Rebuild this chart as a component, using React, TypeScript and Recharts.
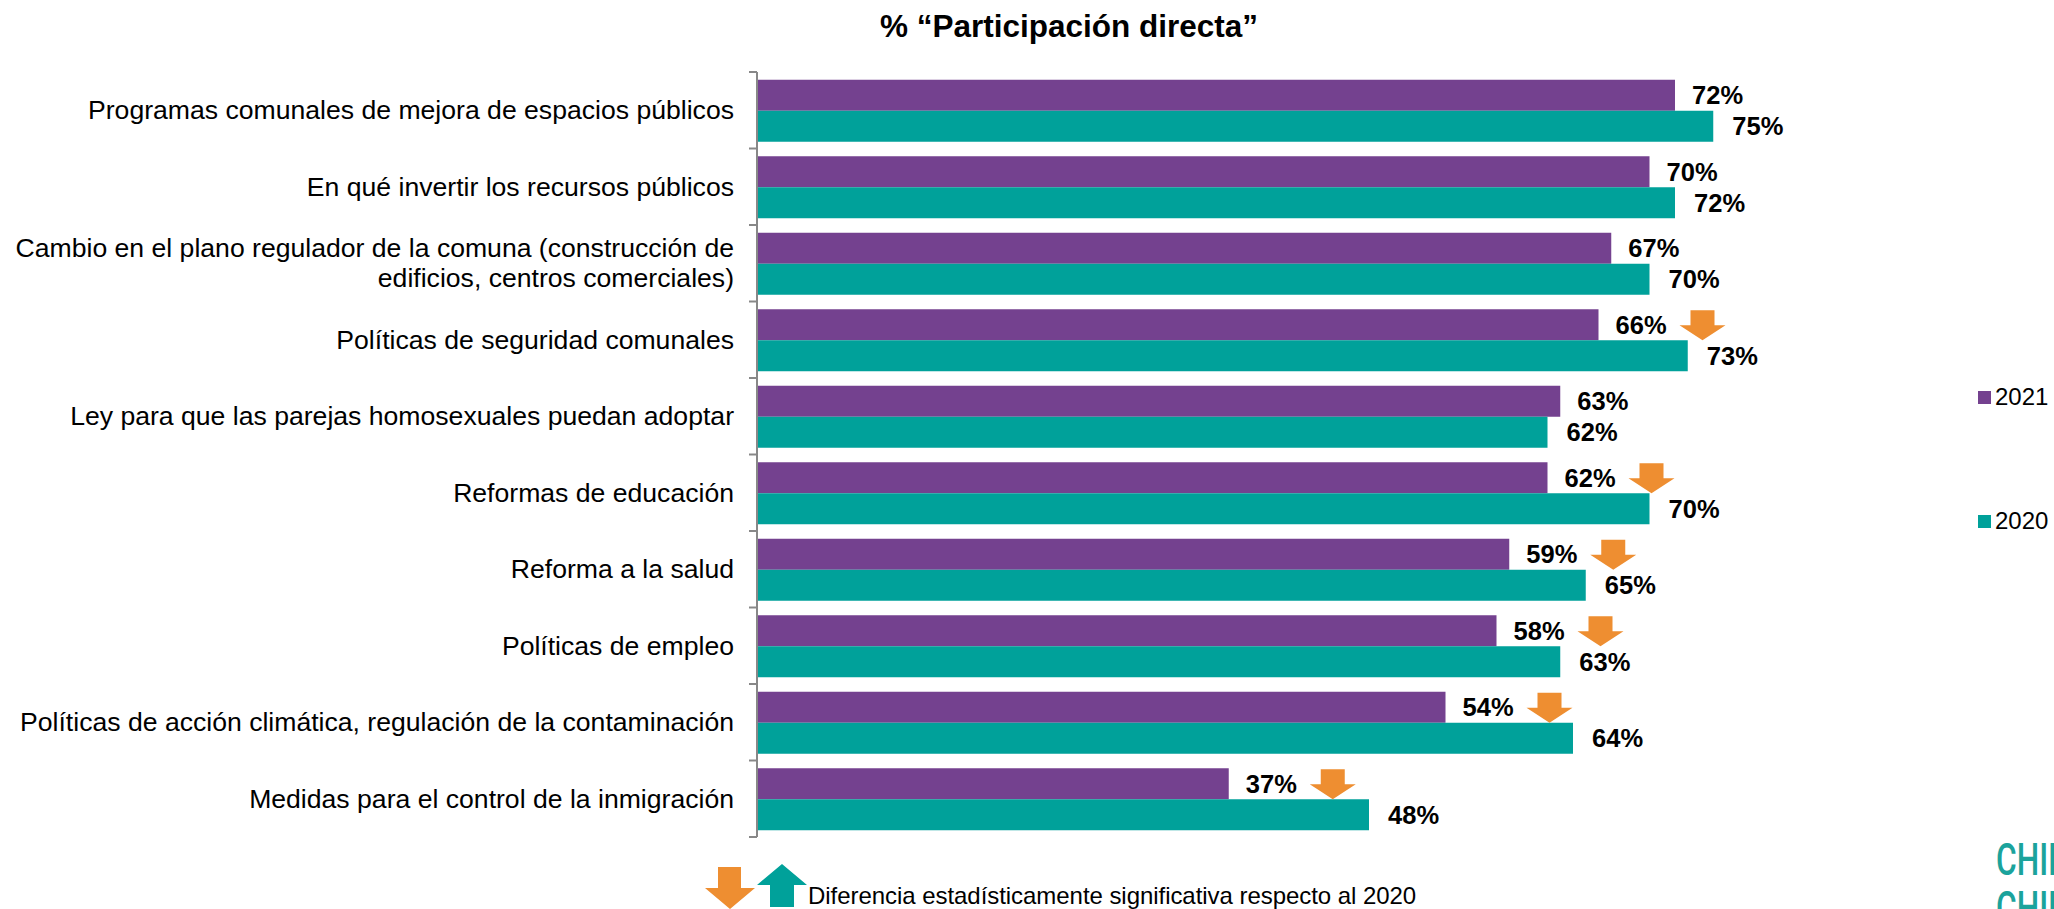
import React from 'react';
import { BarChart, Bar, XAxis, YAxis, LabelList, Legend } from 'recharts';

const categories = [
  'Programas comunales de mejora de espacios públicos',
  'En qué invertir los recursos públicos',
  'Cambio en el plano regulador de la comuna (construcción de\nedificios, centros comerciales)',
  'Políticas de seguridad comunales',
  'Ley para que las parejas homosexuales puedan adoptar',
  'Reformas de educación',
  'Reforma a la salud',
  'Políticas de empleo',
  'Políticas de acción climática, regulación de la contaminación',
  'Medidas para el control de la inmigración',
];
const values2021 = [72, 70, 67, 66, 63, 62, 59, 58, 54, 37];
const values2020 = [75, 72, 70, 73, 62, 70, 65, 63, 64, 48];
const sigDown2021 = [false, false, false, true, false, true, true, true, true, true];

const PURPLE = '#74418F';
const TEAL = '#00A19A';
const ORANGE = '#EE8E31';
const FONT = '"Liberation Sans", Arial, sans-serif';

const W = 2054;
const H = 909;
const TOP = 72;
const BOTTOM = 72;
const AXIS_X = 757;
const LEGEND_W = 80;
const BAND = (H - TOP - BOTTOM) / categories.length;

const data = categories.map((name, i) => ({
  name,
  y2021: values2021[i],
  y2020: values2020[i],
}));

function downArrow(ax: number, top: number) {
  return (
    <polygon
      fill={ORANGE}
      points={`${ax + 11},${top} ${ax + 35},${top} ${ax + 35},${top + 15} ${ax + 46},${top + 15} ${ax + 23},${top + 30} ${ax},${top + 15} ${ax + 11},${top + 15}`}
    />
  );
}

const CategoryTick = (props: any) => {
  const { y, payload, index } = props;
  const lines = String(payload.value).split('\n');
  const lh = 30;
  const y0 = y - ((lines.length - 1) * lh) / 2;
  return (
    <g>
      <line x1={AXIS_X - 8} x2={AXIS_X} y1={y - BAND / 2} y2={y - BAND / 2} stroke="#888" strokeWidth={2} />
      {index === categories.length - 1 && (
        <line x1={AXIS_X - 8} x2={AXIS_X} y1={y + BAND / 2} y2={y + BAND / 2} stroke="#888" strokeWidth={2} />
      )}
      {lines.map((ln, i) => (
        <text
          key={i}
          x={AXIS_X - 23}
          y={y0 + i * lh}
          textAnchor="end"
          dominantBaseline="central"
          fontFamily={FONT}
          fontSize={26.6}
          fill="#000"
        >
          {ln}
        </text>
      ))}
    </g>
  );
};

const label2021 = (props: any) => {
  const { x, y, width, height, value, index } = props;
  const end = x + width;
  return (
    <g>
      <text x={end + 17} y={y + height / 2} dominantBaseline="central" fontFamily={FONT} fontWeight="bold" fontSize={25.5} fill="#000">
        {value}%
      </text>
      {sigDown2021[index] && downArrow(end + 81, y + 1)}
    </g>
  );
};

const label2020 = (props: any) => {
  const { x, y, width, height, value } = props;
  return (
    <text x={x + width + 19} y={y + height / 2} dominantBaseline="central" fontFamily={FONT} fontWeight="bold" fontSize={25.5} fill="#000">
      {value}%
    </text>
  );
};

const SideLegend = () => (
  <div style={{ fontFamily: FONT, fontSize: 24, color: '#000' }}>
    {[
      { name: '2021', color: PURPLE },
      { name: '2020', color: TEAL },
    ].map((it, i) => (
      <div key={it.name} style={{ display: 'flex', alignItems: 'center', height: 30, marginBottom: i === 0 ? 94 : 0 }}>
        <span style={{ width: 13, height: 13, background: it.color, display: 'inline-block', marginRight: 4 }} />
        <span>{it.name}</span>
      </div>
    ))}
  </div>
);

export default function App() {
  return (
    <div style={{ position: 'absolute', left: 0, top: 0, width: W, height: H, background: '#fff', overflow: 'hidden' }}>
      <div
        style={{
          position: 'absolute',
          left: 0,
          width: 2138,
          top: 8,
          textAlign: 'center',
          fontFamily: FONT,
          fontWeight: 'bold',
          fontSize: 31.5,
          color: '#000',
        }}
      >
        % “Participación directa”
      </div>
      <BarChart
        width={W}
        height={H}
        data={data}
        layout="vertical"
        margin={{ top: TOP, bottom: BOTTOM, left: 0, right: W - AXIS_X - 1020 - LEGEND_W }}
        barCategoryGap="10%"
        barGap={0}
      >
        <XAxis type="number" domain={[0, 80]} hide />
        <YAxis
          type="category"
          dataKey="name"
          width={AXIS_X}
          axisLine={{ stroke: '#888', strokeWidth: 2 }}
          tickLine={false}
          tick={<CategoryTick />}
          interval={0}
        />
        <Legend
          verticalAlign="top"
          align="right"
          layout="vertical"
          content={<SideLegend />}
          wrapperStyle={{ position: 'absolute', left: 1978, top: 382, width: LEGEND_W }}
        />
        <Bar dataKey="y2021" name="2021" fill={PURPLE} isAnimationActive={false}>
          <LabelList dataKey="y2021" content={label2021} />
        </Bar>
        <Bar dataKey="y2020" name="2020" fill={TEAL} isAnimationActive={false}>
          <LabelList dataKey="y2020" content={label2020} />
        </Bar>
      </BarChart>
      <svg style={{ position: 'absolute', left: 703, top: 862 }} width={110} height={47}>
        <polygon fill={ORANGE} points="15,5 38,5 38,26 52,26 27,47 2,26 15,26" />
        <polygon fill={TEAL} points="79,2 104,23 91,23 91,45 67,45 67,23 54,23" />
      </svg>
      <div style={{ position: 'absolute', left: 808, top: 882, fontFamily: FONT, fontSize: 24, color: '#000', whiteSpace: 'nowrap', letterSpacing: -0.05 }}>
        Diferencia estadísticamente significativa respecto al 2020
      </div>
      <div
        style={{
          position: 'absolute',
          left: 1996,
          top: 836,
          fontFamily: 'Roboto, sans-serif',
          fontWeight: 500,
          fontSize: 44,
          lineHeight: '48px',
          color: '#1BA39C',
          transform: 'scaleX(0.72)',
          transformOrigin: 'left top',
          whiteSpace: 'nowrap',
        }}
      >
        CHILE<br />CHILE
      </div>
    </div>
  );
}
